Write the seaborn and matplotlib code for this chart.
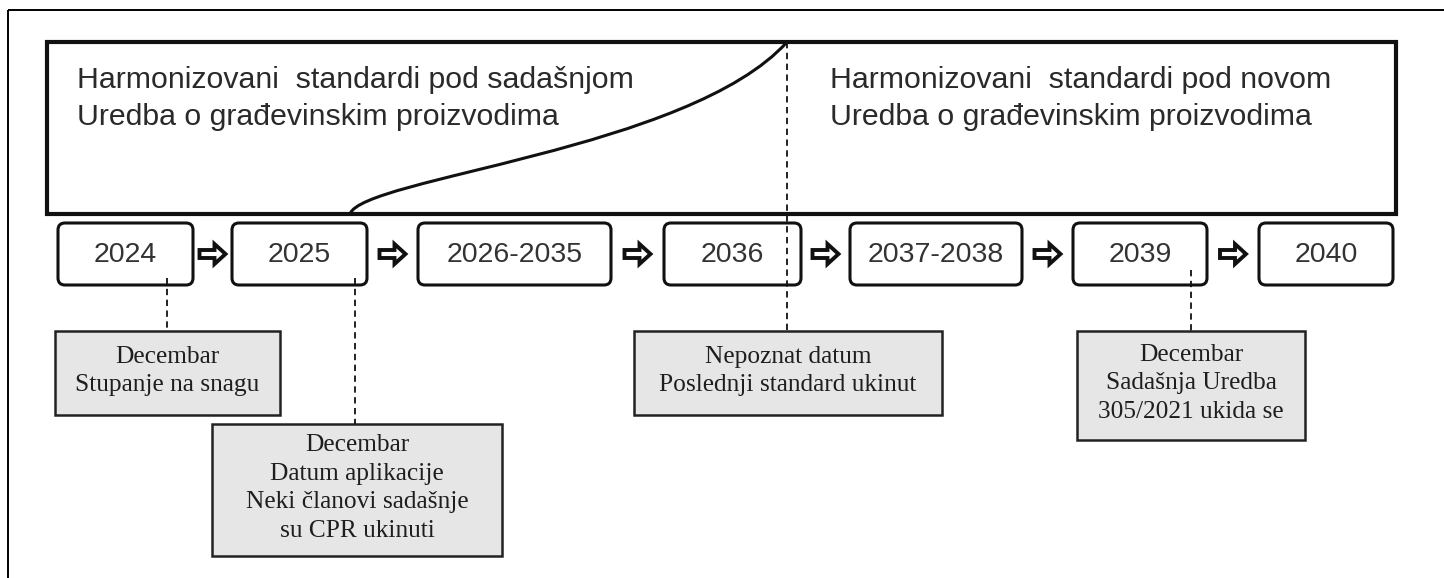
import matplotlib
matplotlib.use("Agg")
import matplotlib.pyplot as plt
import matplotlib.patches as mpatches
from matplotlib.path import Path
import seaborn as sns

# ---------------- content ----------------
years = ["2024", "2025", "2026-2035", "2036", "2037-2038", "2039", "2040"]
header_left = ["Harmonizovani  standardi pod sadašnjom", "Uredba o građevinskim proizvodima"]
header_right = ["Harmonizovani  standardi pod novom", "Uredba o građevinskim proizvodima"]
notes = [
    ["Decembar", "Stupanje na snagu"],
    ["Decembar", "Datum aplikacije", "Neki članovi sadašnje", "su CPR ukinuti"],
    ["Nepoznat datum", "Poslednji standard ukinut"],
    ["Decembar", "Sadašnja Uredba", "305/2021 ukida se"],
]

# ---------------- layout (pixel units) ----------------
year_x = [(58, 193), (232, 367), (418, 611), (664, 801), (850, 1022), (1073, 1207), (1259, 1393)]
year_y = (223, 285)
note_boxes = [(55, 331, 280, 415), (212, 424, 502, 556), (634, 331, 942, 415), (1077, 331, 1305, 440)]
# connector: (x, y_start, y_end)
connectors = [(167, 278, 331), (355, 278, 424), (787, 42, 331), (1191, 270, 331)]
big_box = (47, 42, 1396, 214)

sns.set_theme(style="white")
plt.rcParams["font.family"] = ["Liberation Sans", "DejaVu Sans"]

W, H = 1444, 578
fig = plt.figure(figsize=(W / 100, H / 100), dpi=100)
ax = fig.add_axes([0, 0, 1, 1])
ax.set_xlim(0, W)
ax.set_ylim(H, 0)
ax.axis("off")

# outer frame (top + left edges visible)
ax.plot([8, W], [10, 10], color="black", lw=1.4, solid_capstyle="butt")
ax.plot([8, 8], [10, H], color="black", lw=1.4, solid_capstyle="butt")

# big box
bx0, by0, bx1, by1 = big_box
ax.add_patch(mpatches.Rectangle((bx0, by0), bx1 - bx0, by1 - by0, fill=False,
                                ec="#111111", lw=3.0, zorder=2))

# S-curve
verts = [(350, 214), (362, 178), (690, 150), (787, 42)]
codes = [Path.MOVETO, Path.CURVE4, Path.CURVE4, Path.CURVE4]
ax.add_patch(mpatches.PathPatch(Path(verts, codes), fill=False, ec="#111111", lw=2.2, zorder=3))

txt_col = "#2a2a2a"
for i, line in enumerate(header_left):
    ax.text(77, 80 + i * 37, line, fontsize=21.8, color=txt_col, va="center", ha="left")
for i, line in enumerate(header_right):
    ax.text(830, 80 + i * 37, line, fontsize=21.8, color=txt_col, va="center", ha="left")

# year boxes
y0, y1 = year_y
for (x0, x1), lab in zip(year_x, years):
    ax.add_patch(mpatches.FancyBboxPatch((x0, y0), x1 - x0, y1 - y0,
                                         boxstyle="round,pad=0,rounding_size=7",
                                         fc="white", ec="#111111", lw=2.2, zorder=4))
    ax.text((x0 + x1) / 2, (y0 + y1) / 2 + 1, lab, fontsize=20.5, color="#333333",
            ha="center", va="center", zorder=5)

# arrows between year boxes
for (a0, a1), (b0, b1) in zip(year_x[:-1], year_x[1:]):
    L = 26
    cx = (a1 + b0) / 2
    ax.add_patch(mpatches.FancyArrow(cx - L / 2, (y0 + y1) / 2, L, 0, width=8,
                                     head_width=20, head_length=11,
                                     length_includes_head=True,
                                     fc="white", ec="#111111", lw=2.8, zorder=4))

# note boxes
for (x0, ny0, x1, ny1), lines in zip(note_boxes, notes):
    ax.add_patch(mpatches.Rectangle((x0, ny0), x1 - x0, ny1 - ny0, fc="#e6e6e6",
                                    ec="#222222", lw=1.8, zorder=4))
    n = len(lines)
    cy = (ny0 + ny1) / 2 - 2
    sp = 28.5
    for k, line in enumerate(lines):
        ax.text((x0 + x1) / 2, cy + (k - (n - 1) / 2) * sp, line, fontsize=18.3,
                family=["Liberation Serif", "DejaVu Serif"], color="#1e1e1e",
                ha="center", va="center", zorder=5)

# dashed connectors
for x, ys, ye in connectors:
    ax.plot([x, x], [ys, ye], color="#111111", lw=1.3, ls=(0, (3.5, 2.5)), zorder=6)

fig.savefig("out.png", dpi=100, facecolor="white")
